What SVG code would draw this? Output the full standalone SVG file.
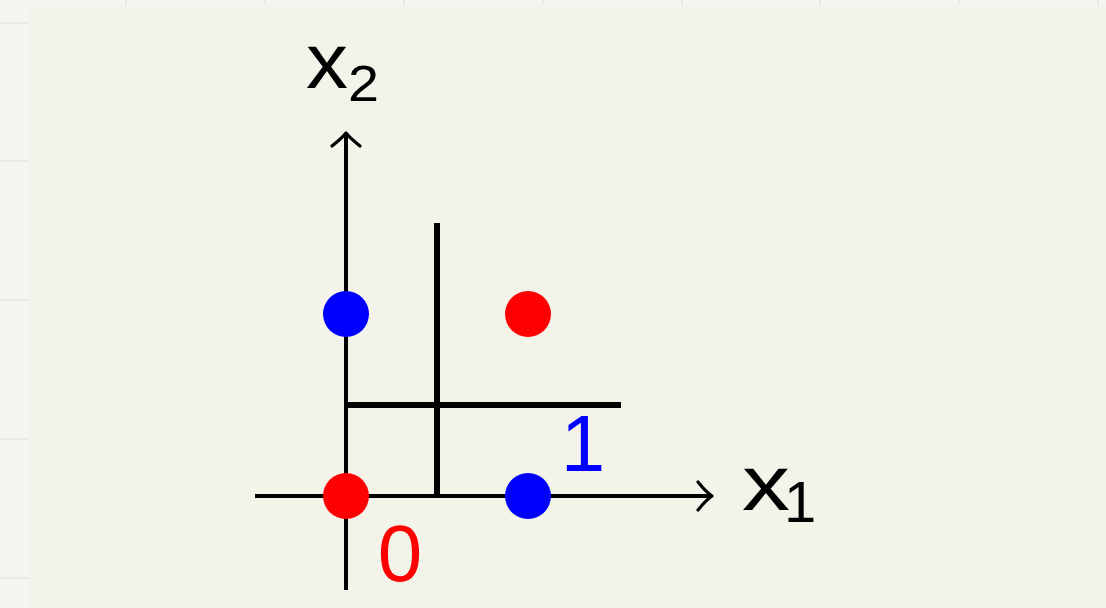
<svg xmlns="http://www.w3.org/2000/svg" width="1106" height="608" viewBox="0 0 1106 608">
  <style>
    .grid { stroke: #e9e8e3; stroke-width: 2; }
    .axis { stroke: #000; stroke-width: 4; fill: none; }
    .thick { stroke: #000; stroke-width: 6; fill: none; }
    .head { stroke: #000; stroke-width: 3.2; fill: none; stroke-linecap: round; stroke-linejoin: round; }
    .lbl { font-family: "Liberation Sans", Arial, sans-serif; }
  </style>
  <rect x="0" y="0" width="1106" height="608" fill="#f5f4f0"/>
  <g id="page-grid">
    <line class="grid" x1="0" y1="23" x2="29" y2="23"/>
    <line class="grid" x1="0" y1="161" x2="29" y2="161"/>
    <line class="grid" x1="0" y1="300" x2="29" y2="300"/>
    <line class="grid" x1="0" y1="439" x2="29" y2="439"/>
    <line class="grid" x1="0" y1="578" x2="29" y2="578"/>
    <line class="grid" x1="126" y1="0" x2="126" y2="5"/>
    <line class="grid" x1="265" y1="0" x2="265" y2="5"/>
    <line class="grid" x1="404" y1="0" x2="404" y2="5"/>
    <line class="grid" x1="543" y1="0" x2="543" y2="5"/>
    <line class="grid" x1="682" y1="0" x2="682" y2="5"/>
    <line class="grid" x1="820" y1="0" x2="820" y2="5"/>
    <line class="grid" x1="959" y1="0" x2="959" y2="5"/>
    <line class="grid" x1="1098" y1="0" x2="1098" y2="5"/>
  </g>
  <rect x="29" y="5" width="1077" height="603" fill="#f4f3e9"/>

  <g id="connectors">
    <line class="axis" x1="346" y1="590" x2="346" y2="133"/>
    <path class="head" d="M332,146 Q342,138 346,133 Q350,138 360,146"/>
    <line class="axis" x1="255" y1="496" x2="711" y2="496"/>
    <path class="head" d="M698,482 Q706,492 712,496 Q706,500 698,510"/>
    <line class="thick" x1="437" y1="223" x2="437" y2="496"/>
    <line class="thick" x1="346" y1="405" x2="621" y2="405"/>
  </g>

  <g id="point-01"><circle cx="346" cy="314" r="23" fill="#0000ff"/></g>
  <g id="point-11"><circle cx="528" cy="314" r="23" fill="#ff0000"/></g>
  <g id="point-00"><circle cx="346" cy="496" r="23" fill="#ff0000"/></g>
  <g id="point-10"><circle cx="528" cy="496" r="23" fill="#0000ff"/></g>

  <g id="label-0"><text class="lbl" x="400" y="581" font-size="80" fill="#ff0000" text-anchor="middle">0</text></g>
  <g id="label-1"><text class="lbl" x="583" y="471" font-size="80" fill="#0000ff" text-anchor="middle">1</text></g>
  <g id="label-x1">
    <text class="lbl" x="742" y="510" font-size="78" fill="#000" textLength="48" lengthAdjust="spacingAndGlyphs">x</text>
    <text class="lbl" x="784" y="522" font-size="58" fill="#000">1</text>
  </g>
  <g id="label-x2">
    <text class="lbl" x="306" y="88" font-size="78" fill="#000" textLength="42" lengthAdjust="spacingAndGlyphs">x</text>
    <text class="lbl" x="348" y="101" font-size="50" fill="#000" textLength="31" lengthAdjust="spacingAndGlyphs">2</text>
  </g>
</svg>
